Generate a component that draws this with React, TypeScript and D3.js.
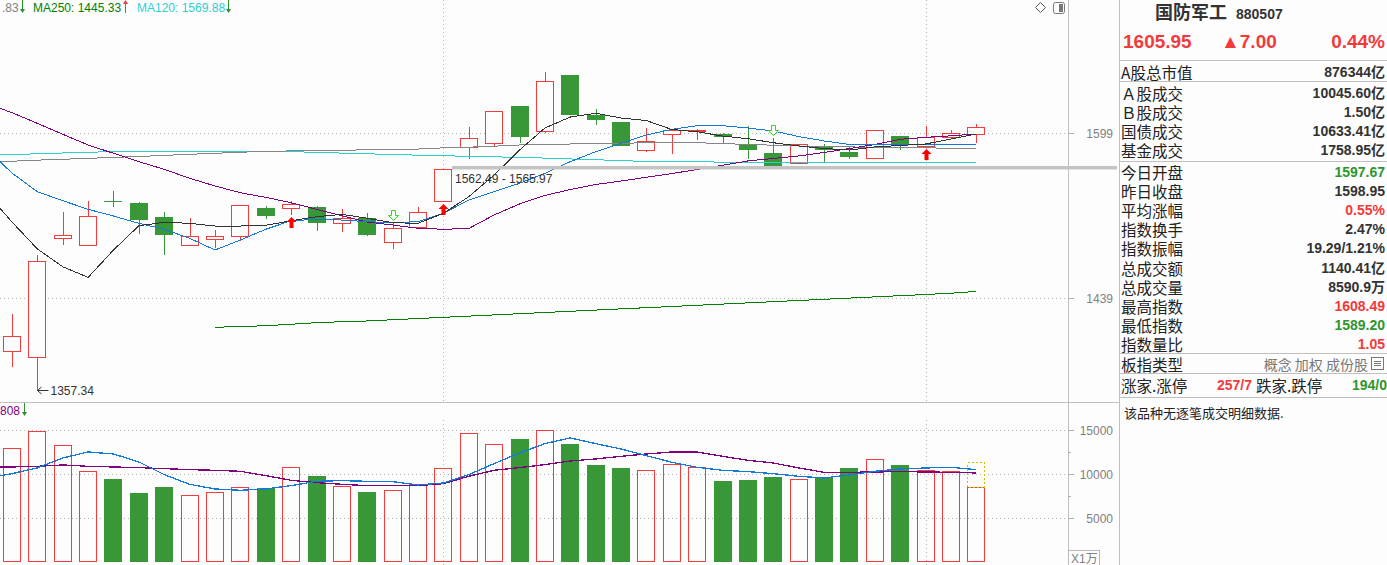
import React from "react";
import * as d3 from "d3";

// ---------- data (39 trading sessions visible) ----------
const sessions: number[] = Array.from({ length: 39 }, (_, i) => i);

const opens = [1390.2, 1384.8, 1494.9, 1487.6, 1531.6, 1529.3, 1515.7, 1488.2, 1493.9, 1496.2, 1524.5, 1523.2, 1525.4, 1509.3, 1514.5, 1490.5, 1504.8, 1530.6, 1584.4, 1588.4, 1627.1, 1600.0, 1659.7, 1617.8, 1610.6, 1580.7, 1597.0, 1600.6, 1598.3, 1588.4, 1579.0, 1567.9, 1584.8, 1580.0, 1572.7, 1596.2, 1585.4, 1593.9, 1597.67];
const closes = [1404.7, 1473.7, 1498.4, 1516.7, 1531.0, 1513.1, 1498.7, 1497.2, 1497.2, 1527.1, 1517.0, 1528.1, 1510.2, 1514.5, 1498.7, 1504.8, 1520.3, 1562.49, 1593.9, 1621.6, 1595.5, 1653.0, 1618.1, 1613.0, 1586.4, 1590.8, 1602.1, 1602.7, 1594.9, 1582.3, 1566.4, 1587.8, 1582.0, 1575.3, 1602.1, 1587.8, 1594.9, 1598.95, 1605.95];
const highs = [1424.6, 1479.6, 1520.6, 1531.3, 1541.1, 1530.3, 1520.6, 1514.8, 1503.2, 1527.5, 1526.4, 1531.3, 1526.0, 1523.2, 1519.3, 1509.6, 1525.4, 1562.49, 1605.1, 1621.8, 1627.5, 1662.9, 1660.0, 1623.7, 1611.0, 1604.4, 1602.5, 1603.0, 1599.6, 1606.5, 1594.2, 1588.0, 1587.8, 1586.1, 1602.3, 1596.5, 1606.5, 1602.1, 1608.49];
const lows = [1377.4, 1357.34, 1489.1, 1487.6, 1525.7, 1499.6, 1479.6, 1488.0, 1486.0, 1492.9, 1514.1, 1517.4, 1502.5, 1501.6, 1497.4, 1485.3, 1504.0, 1530.0, 1573.3, 1586.1, 1588.8, 1599.5, 1617.5, 1607.8, 1586.0, 1580.5, 1578.3, 1592.2, 1587.8, 1573.3, 1565.97, 1567.5, 1570.3, 1573.0, 1572.5, 1581.7, 1585.0, 1593.5, 1589.2];
const volumes = [12992, 14924, 13333, 10379, 9508, 7917, 8598, 7652, 8030, 8561, 8485, 10833, 9848, 8712, 8030, 8258, 8864, 10720, 14697, 13447, 14053, 15038, 13485, 11098, 10758, 10492, 11174, 10833, 9280, 9394, 9735, 9470, 9735, 10758, 11742, 11098, 10492, 10379, 8590.9];
const projectedVolume = 11402;

// moving averages: first entry = previous session (partly visible at left edge)
const ma5 = [1539.2, 1510.9, 1485.1, 1468.3, 1458.4, 1484.1, 1507.3, 1510.6, 1509.6, 1507.0, 1507.0, 1507.7, 1512.1, 1516.0, 1518.3, 1514.5, 1510.2, 1509.6, 1519.3, 1535.5, 1556.9, 1582.0, 1604.4, 1615.7, 1619.6, 1614.7, 1612.1, 1602.9, 1600.6, 1596.2, 1593.5, 1589.4, 1586.1, 1583.5, 1582.0, 1585.1, 1586.6, 1588.1, 1593.2, 1598.3];
const ma10 = [1583.0, 1558.9, 1540.4, 1531.6, 1523.2, 1516.7, 1509.6, 1503.9, 1495.2, 1484.1, 1493.6, 1503.9, 1512.1, 1513.5, 1512.8, 1511.2, 1510.2, 1511.2, 1519.3, 1532.3, 1540.4, 1548.7, 1558.6, 1570.3, 1580.3, 1588.8, 1597.3, 1603.1, 1606.8, 1606.8, 1604.4, 1601.4, 1595.7, 1591.2, 1587.6, 1587.1, 1587.1, 1587.6, 1587.1, 1587.8];
const ma20 = [1629.8, 1620.2, 1609.2, 1598.0, 1587.1, 1578.7, 1570.3, 1562.6, 1553.7, 1546.1, 1539.4, 1534.9, 1529.6, 1523.2, 1517.0, 1510.9, 1508.0, 1504.8, 1503.9, 1504.6, 1517.7, 1528.4, 1536.7, 1542.6, 1547.5, 1551.0, 1554.7, 1558.4, 1562.4, 1566.7, 1571.0, 1573.5, 1576.0, 1579.5, 1583.5, 1587.6, 1592.9, 1594.9, 1596.4, 1598.3];
const ma60 = [1569.7, 1570.7, 1571.8, 1572.7, 1573.6, 1574.6, 1575.5, 1576.6, 1577.7, 1578.7, 1579.8, 1580.6, 1581.1, 1581.5, 1581.8, 1582.2, 1582.8, 1583.0, 1584.2, 1584.9, 1585.9, 1587.1, 1587.7, 1588.1, 1588.5, 1588.9, 1589.3, 1589.5, 1589.4, 1588.6, 1587.6, 1586.9, 1586.1, 1585.6, 1585.1, 1584.9, 1584.6, 1584.2, 1583.8, 1583.5];
const ma120 = [1576.6, 1577.4, 1578.2, 1579.0, 1579.7, 1580.5, 1581.0, 1581.0, 1581.0, 1581.0, 1581.0, 1581.0, 1580.3, 1579.7, 1578.9, 1578.2, 1577.5, 1576.8, 1576.2, 1575.7, 1575.2, 1574.4, 1573.9, 1573.0, 1572.2, 1571.4, 1570.4, 1570.2, 1570.0, 1569.9, 1569.88, 1569.88, 1569.88, 1569.88, 1569.88, 1569.88, 1569.88, 1569.88, 1569.88, 1569.88];
const ma250: (number | null)[] = [null, null, null, null, null, null, null, null, null, 1412.6, 1413.3, 1414.0, 1415.3, 1416.8, 1417.6, 1418.3, 1419.4, 1420.5, 1421.6, 1422.7, 1423.8, 1424.9, 1426.0, 1427.1, 1428.2, 1429.3, 1430.4, 1431.5, 1432.6, 1433.7, 1434.8, 1435.9, 1437.0, 1438.1, 1439.2, 1440.3, 1441.4, 1442.5, 1443.7, 1445.33];
const volMa5 = [9583, 10076, 10720, 11856, 12538, 12311, 11402, 9962, 8864, 8333, 8182, 8333, 8712, 9205, 9280, 9205, 9167, 8788, 9015, 9962, 11212, 12424, 13485, 14129, 13485, 12879, 12121, 11364, 10795, 10455, 10303, 10076, 9773, 9583, 9924, 10341, 10606, 10720, 10795, 10530];
const volMa10 = [10833, 10833, 10909, 11061, 10909, 10833, 10758, 10644, 10530, 10455, 10341, 9848, 9318, 9053, 8864, 8712, 8712, 8712, 8939, 9773, 10455, 10758, 11098, 11515, 11742, 12045, 12311, 12538, 12538, 12045, 11591, 11288, 10720, 10227, 10227, 10265, 10303, 10265, 10227, 10152];

const buySignals = [11, 17, 36];
const sellSignals = [15, 30];
const monthStarts = [17, 36];
const gapFrom = 17;
const gapLow = 1562.49;
const gapHigh = 1565.97;
const lowMarkIndex = 1;

const priceTicks = [1599, 1439];
const volTicks = [15000, 10000, 5000];
const volMinorTicks = [12500, 7500];

const stockName = "国防军工";
const stockCode = "880507";
const lastPrice = "1605.95";
const change = "▲7.00";
const changePct = "0.44%";
const infoLabels = ["A股总市值", "Ａ股成交", "Ｂ股成交", "国债成交", "基金成交", "今日开盘", "昨日收盘", "平均涨幅", "指数换手", "指数振幅", "总成交额", "总成交量", "最高指数", "最低指数", "指数量比"];
const infoValues = ["876344亿", "10045.60亿", "1.50亿", "10633.41亿", "1758.95亿", "1597.67", "1598.95", "0.55%", "2.47%", "19.29/1.21%", "1140.41亿", "8590.9万", "1608.49", "1589.20", "1.05"];
const infoTones = ["n", "n", "n", "n", "n", "down", "n", "up", "n", "n", "n", "n", "up", "down", "up"];

const RED = "#f43c3c";
const GREEN = "#389838";
const TXT_RED = "#f23a3a";
const TXT_GREEN = "#2e962e";
const NUM = "'Liberation Sans', Arial, 'Noto Sans CJK SC', sans-serif";
const CJK = "'Noto Sans CJK SC', 'Liberation Sans', sans-serif";

export default function App() {
  const W = 1387;
  const H = 565;
  const chartRight = 1068;
  const axisRight = 1119;
  const split = 402;

  const x = d3
    .scaleBand<number>()
    .domain(sessions)
    .range([-0.69, 988.98])
    .paddingInner(0.29)
    .paddingOuter(0.145);
  const bw = x.bandwidth();
  const xc = d3
    .scaleLinear()
    .domain([0, 38])
    .range([(x(0) as number) + bw / 2, (x(38) as number) + bw / 2]);
  const y = d3.scaleLog().domain([1439, 1599]).range([298.3, 133.3]);
  const yv = d3.scaleLinear().domain([0, 15000]).range([562.3, 430.3]);

  const priceLine = d3
    .line<number | null>()
    .defined((d) => d != null)
    .x((_, k) => xc(k - 1))
    .y((d) => y(d as number));
  const volLine = d3
    .line<number>()
    .x((_, k) => xc(k - 1))
    .y((d) => yv(d));

  const maDefs: { vals: (number | null)[]; color: string }[] = [
    { vals: ma250, color: "#007f00" },
    { vals: ma120, color: "#2bd0d0" },
    { vals: ma60, color: "#858585" },
    { vals: ma20, color: "#800080" },
    { vals: ma10, color: "#1279d6" },
    { vals: ma5, color: "#333333" },
  ];

  const candle = (i: number) => {
    const o = opens[i], c = closes[i], h = highs[i], l = lows[i];
    const up = c >= o;
    const col = up ? RED : GREEN;
    const left = Math.round(x(i) as number);
    const w = Math.round(bw);
    const mid = left + Math.floor(w / 2) + 0.5;
    const yTop = Math.round(y(Math.max(o, c)));
    const yBot = Math.round(y(Math.min(o, c)));
    const yH = Math.round(y(h));
    const yL = Math.round(y(l));
    const parts: React.ReactNode[] = [];
    if (yBot - yTop < 1) {
      parts.push(<line key="w" x1={mid} x2={mid} y1={yH} y2={yL} stroke={col} />);
      parts.push(<line key="b" x1={left} x2={left + w} y1={yTop + 0.5} y2={yTop + 0.5} stroke={col} />);
    } else if (up) {
      if (yH < yTop) parts.push(<line key="wt" x1={mid} x2={mid} y1={yH} y2={yTop} stroke={col} />);
      if (yL > yBot) parts.push(<line key="wb" x1={mid} x2={mid} y1={yBot} y2={yL} stroke={col} />);
      parts.push(
        <rect key="b" x={left + 0.5} y={yTop + 0.5} width={w - 1} height={Math.max(yBot - yTop - 1, 1)} fill="#fdfdfd" stroke={col} />
      );
    } else {
      parts.push(<line key="w" x1={mid} x2={mid} y1={yH} y2={yL} stroke={col} />);
      parts.push(<rect key="b" x={left} y={yTop} width={w} height={Math.max(yBot - yTop, 1)} fill={col} />);
    }
    return <g key={i}>{parts}</g>;
  };

  const volBar = (i: number) => {
    const up = closes[i] >= opens[i];
    const left = Math.round(x(i) as number);
    const w = Math.round(bw);
    const top = Math.round(yv(volumes[i]));
    const bot = Math.round(yv(0));
    return up ? (
      <rect key={i} x={left + 0.5} y={top + 0.5} width={w - 1} height={bot - top - 1} fill="none" stroke={RED} />
    ) : (
      <rect key={i} x={left} y={top} width={w} height={bot - top} fill={GREEN} />
    );
  };

  const upArrow = (i: number) => {
    const cx = Math.round(xc(i)) + 0.5;
    const t = Math.round(y(lows[i])) + 2;
    const d = `M${cx},${t} L${cx + 5},${t + 5} L${cx + 2},${t + 5} L${cx + 2},${t + 11} L${cx - 2},${t + 11} L${cx - 2},${t + 5} L${cx - 5},${t + 5} Z`;
    return <path key={"u" + i} d={d} fill="#ff0000" />;
  };
  const downArrow = (i: number) => {
    const cx = Math.round(xc(i)) + 0.5;
    const t = Math.round(y(highs[i])) - 2.5;
    const d = `M${cx},${t} L${cx - 5},${t - 5} L${cx - 2},${t - 5} L${cx - 2},${t - 10} L${cx + 2},${t - 10} L${cx + 2},${t - 5} L${cx + 5},${t - 5} Z`;
    return <path key={"d" + i} d={d} fill="#fdfdfd" stroke="#22e022" strokeWidth={1} />;
  };

  const legendArrow = (ax: number, dir: "up" | "down", color: string, top: number) => {
    const lx = ax + 0.5;
    if (dir === "down") {
      return (
        <g key={"la" + ax + top}>
          <line x1={lx} x2={lx} y1={top} y2={top + 10} stroke={color} />
          <path d={`M${ax - 2},${top + 9} L${ax + 3},${top + 9} L${lx},${top + 13} Z`} fill={color} />
        </g>
      );
    }
    return (
      <g key={"la" + ax + top}>
        <line x1={lx} x2={lx} y1={top + 3} y2={top + 13} stroke={color} />
        <path d={`M${ax - 2},${top + 4} L${ax + 3},${top + 4} L${lx},${top} Z`} fill={color} />
      </g>
    );
  };

  const gapX0 = Math.round((x(gapFrom) as number) + bw);
  const lowX = Math.round(xc(lowMarkIndex)) + 0.5;
  const lowY = Math.round(y(lows[lowMarkIndex]));

  const infoY = (k: number) => (k === 0 ? 71.5 : k <= 4 ? 93 + (k - 1) * 19.1 : 171.5 + (k - 5) * 19.2);
  const toneColor = (t: string) => (t === "up" ? TXT_RED : t === "down" ? TXT_GREEN : "#333");

  return (
    <svg
      width={W}
      height={H}
      style={{ position: "absolute", left: 0, top: 0, background: "#fdfdfd" }}
      fontFamily={NUM}
    >
      <defs>
        <clipPath id="pricePane">
          <rect x={0} y={0} width={chartRight} height={split} />
        </clipPath>
        <clipPath id="volPane">
          <rect x={0} y={split + 1} width={chartRight} height={H - split - 1} />
        </clipPath>
      </defs>
      <rect x={0} y={0} width={W} height={H} fill="#fdfdfd" />

      {/* grids */}
      <g stroke="#b4b4b4" strokeDasharray="1 3" shapeRendering="crispEdges">
        {priceTicks.map((t) => (
          <line key={"pg" + t} x1={0} x2={chartRight} y1={Math.round(y(t)) + 0.5} y2={Math.round(y(t)) + 0.5} />
        ))}
        {volTicks.map((t) => (
          <line key={"vg" + t} x1={0} x2={chartRight} y1={Math.round(yv(t)) + 0.5} y2={Math.round(yv(t)) + 0.5} />
        ))}
        {monthStarts.map((i) => (
          <g key={"ms" + i}>
            <line x1={Math.round(xc(i)) + 0.5} x2={Math.round(xc(i)) + 0.5} y1={0} y2={split} />
            <line x1={Math.round(xc(i)) + 0.5} x2={Math.round(xc(i)) + 0.5} y1={split + 18} y2={H} />
          </g>
        ))}
      </g>

      {/* price pane */}
      <g clipPath="url(#pricePane)">
        <g shapeRendering="crispEdges">{sessions.map(candle)}</g>
        <g fill="none" strokeWidth={1} shapeRendering="crispEdges">
          {maDefs.map((m, k) => (
            <path key={"ma" + k} d={priceLine(m.vals) || ""} stroke={m.color} />
          ))}
        </g>
        {buySignals.map(upArrow)}
        {sellSignals.map(downArrow)}
      </g>

      {/* gap band */}
      <rect
        x={gapX0}
        y={y(gapHigh)}
        width={axisRight - gapX0 - 2}
        height={y(gapLow) - y(gapHigh)}
        fill="#c4c4c4"
      />
      <text x={gapX0 + 3} y={183} fontSize={12} fill="#333">
        {`${gapLow.toFixed(2)} - ${gapHigh.toFixed(2)}`}
      </text>

      {/* low marker */}
      <g stroke="#333" fill="none">
        <line x1={lowX} x2={lowX + 11} y1={lowY + 0.5} y2={lowY + 0.5} />
        <path d={`M${lowX + 4},${lowY - 3} L${lowX},${lowY + 0.5} L${lowX + 4},${lowY + 4}`} />
      </g>
      <text x={lowX + 13} y={lowY + 5} fontSize={12} fill="#333">
        {lows[lowMarkIndex].toFixed(2)}
      </text>

      {/* top legend */}
      <text x={2} y={12} fontSize={12} fill="#808080">.83</text>
      {legendArrow(22, "down", "#2e8f2e", 0)}
      <text x={33} y={12} fontSize={12} fill="#007f00">{`MA250: ${ma250[ma250.length - 1]}`}</text>
      {legendArrow(125, "up", "#f23a3a", 0)}
      <text x={137} y={12} fontSize={12} fill="#2bd0d0">{`MA120: ${ma120[ma120.length - 1]}`}</text>
      {legendArrow(228, "down", "#2e8f2e", 0)}

      {/* top-right icons */}
      <path d="M1040.5,2.5 L1045.5,7.5 L1040.5,12.5 L1035.5,7.5 Z" fill="none" stroke="#555" />
      <rect x={1053.5} y={2.5} width={11} height={11} rx={2} fill="none" stroke="#777" />
      <rect x={1059} y={4} width={4} height={8} fill="#777" />

      {/* volume pane */}
      <g clipPath="url(#volPane)">
        <g shapeRendering="crispEdges">{sessions.map(volBar)}</g>
        <rect
          x={Math.round(x(38) as number) + 0.5}
          y={Math.round(yv(projectedVolume)) + 0.5}
          width={Math.round(bw) - 1}
          height={Math.round(yv(volumes[38])) - Math.round(yv(projectedVolume))}
          fill="none"
          stroke="#c8c400"
          strokeDasharray="2 2"
          shapeRendering="crispEdges"
        />
        <g fill="none" shapeRendering="crispEdges">
          <path d={volLine(volMa10) || ""} stroke="#800080" strokeWidth={1.3} />
          <path d={volLine(volMa5) || ""} stroke="#1279d6" strokeWidth={1.3} />
        </g>
      </g>
      <text x={0} y={415} fontSize={12} fill="#800080">808</text>
      {legendArrow(24, "down", "#2e8f2e", 403)}

      {/* frame lines */}
      <g stroke="#c0c0c0" shapeRendering="crispEdges">
        <line x1={chartRight + 0.5} x2={chartRight + 0.5} y1={0} y2={H} />
        <line x1={axisRight + 0.5} x2={axisRight + 0.5} y1={0} y2={H} />
        <line x1={0} x2={axisRight} y1={split + 0.5} y2={split + 0.5} />
        {[60.5, 81.5, 161.5, 353.5, 373.5, 397.5].map((ly) => (
          <line key={"pl" + ly} x1={axisRight} x2={W} y1={ly} y2={ly} />
        ))}
      </g>

      {/* price axis */}
      <g fontSize={12} fill="#808080">
        {priceTicks.map((t) => (
          <g key={"pt" + t}>
            <line x1={chartRight} x2={chartRight + 6} y1={Math.round(y(t)) + 0.5} y2={Math.round(y(t)) + 0.5} stroke="#b0b0b0" />
            <text x={1113} y={y(t) + 4.5} textAnchor="end">{t}</text>
          </g>
        ))}
        {volTicks.map((t) => (
          <g key={"vt" + t}>
            <line x1={chartRight} x2={chartRight + 6} y1={Math.round(yv(t)) + 0.5} y2={Math.round(yv(t)) + 0.5} stroke="#b0b0b0" />
            <text x={1113} y={yv(t) + 4.5} textAnchor="end">{t}</text>
          </g>
        ))}
        {volMinorTicks.map((t) => (
          <line key={"vm" + t} x1={chartRight} x2={chartRight + 3} y1={Math.round(yv(t)) + 0.5} y2={Math.round(yv(t)) + 0.5} stroke="#b0b0b0" />
        ))}
        <rect x={chartRight + 0.5} y={550.5} width={31} height={16} fill="none" stroke="#b8b8b8" />
        <text x={chartRight + 3} y={563} fontFamily={NUM}>X1万</text>
      </g>

      {/* right info panel */}
      <text x={1155} y={18.5} fontSize={18} fontWeight={700} fill="#333" fontFamily={CJK}>{stockName}</text>
      <text x={1236} y={18.5} fontSize={14} fontWeight={700} fill="#333">{stockCode}</text>
      <g fontSize={19} fontWeight={700} fill={TXT_RED}>
        <text x={1123} y={48}>{lastPrice}</text>
        <text x={1221} y={48}>{change}</text>
        <text x={1385} y={48} textAnchor="end">{changePct}</text>
      </g>
      {infoLabels.map((lab, k) => (
        <g key={"info" + k}>
          <text x={1121} y={infoY(k)} dominantBaseline="central" fontSize={15.5} fill="#222" fontFamily={CJK}>
            {lab}
          </text>
          <text x={1385} y={infoY(k)} dominantBaseline="central" textAnchor="end" fontSize={14} fontWeight={700} fill={toneColor(infoTones[k])}>
            {infoValues[k]}
          </text>
        </g>
      ))}
      <text x={1121} y={363.5} dominantBaseline="central" fontSize={15.5} fill="#222" fontFamily={CJK}>板指类型</text>
      <text x={1368} y={363.5} dominantBaseline="central" textAnchor="end" fontSize={14} fill="#777" fontFamily={CJK}>概念 加权 成份股</text>
      <g stroke="#777" fill="none" shapeRendering="crispEdges">
        <rect x={1371.5} y={357.5} width={12} height={12} />
        <line x1={1374} x2={1381} y1={361.5} y2={361.5} />
        <line x1={1374} x2={1381} y1={363.5} y2={363.5} />
        <line x1={1374} x2={1381} y1={365.5} y2={365.5} />
      </g>
      <text x={1121} y={384.5} dominantBaseline="central" fontSize={15.5} fill="#222" fontFamily={CJK}>涨家.涨停</text>
      <text x={1252} y={384.5} dominantBaseline="central" textAnchor="end" fontSize={14} fontWeight={700} fill={TXT_RED}>257/7</text>
      <text x={1256} y={384.5} dominantBaseline="central" fontSize={15.5} fill="#222" fontFamily={CJK}>跌家.跌停</text>
      <text x={1387} y={384.5} dominantBaseline="central" textAnchor="end" fontSize={14} fontWeight={700} fill={TXT_GREEN}>194/0</text>
      <text x={1124} y={412} dominantBaseline="central" fontSize={13} fill="#222" fontFamily={CJK}>该品种无逐笔成交明细数据.</text>
    </svg>
  );
}
